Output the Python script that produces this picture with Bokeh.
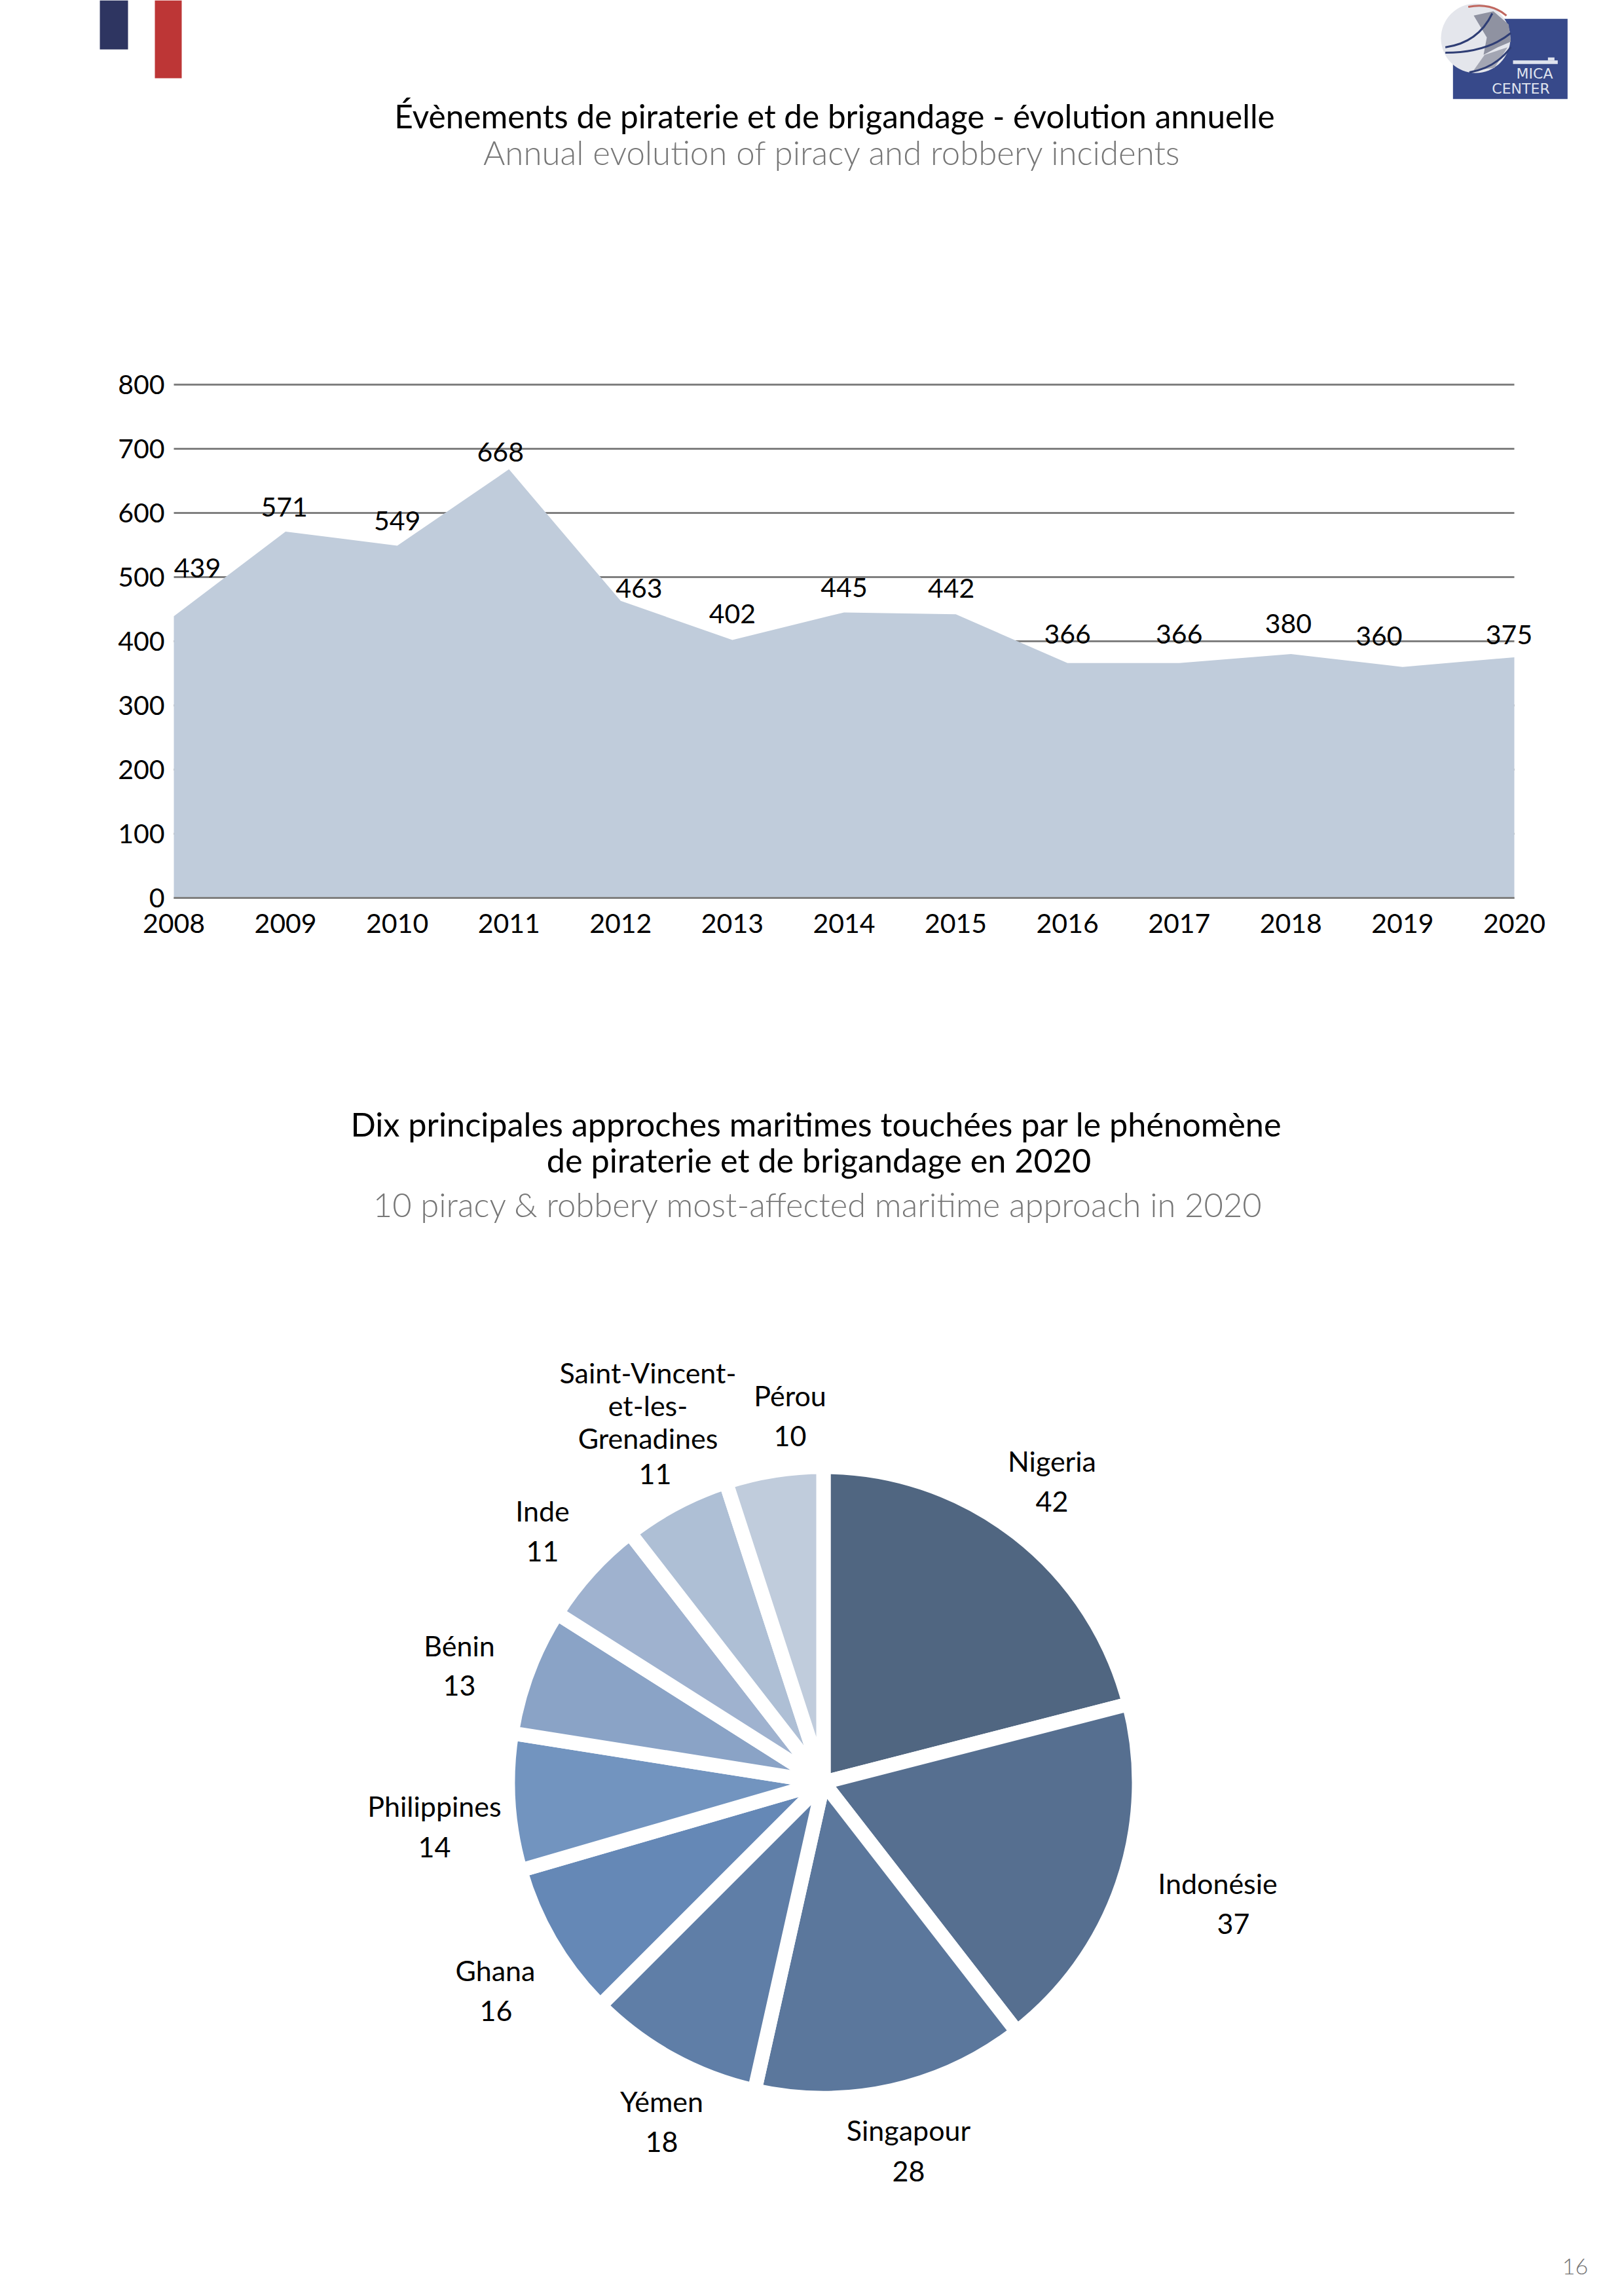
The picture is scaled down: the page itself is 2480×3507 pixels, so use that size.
from math import pi
from bokeh.plotting import figure
from bokeh.models import Range1d, FixedTicker, LabelSet, ColumnDataSource, LinearAxis
from bokeh.core.properties import value
from bokeh.embed import file_html
from bokeh.resources import INLINE

# ---------- data ----------
years = [2008, 2009, 2010, 2011, 2012, 2013, 2014, 2015, 2016, 2017, 2018, 2019, 2020]
incidents = [439, 571, 549, 668, 463, 402, 445, 442, 366, 366, 380, 360, 375]
y_ticks = [0, 100, 200, 300, 400, 500, 600, 700, 800]

countries = ["Nigeria", "Indonésie", "Singapour", "Yémen", "Ghana", "Philippines",
             "Bénin", "Inde", "Saint-Vincent-\net-les-\nGrenadines", "Pérou"]
counts = [42, 37, 28, 18, 16, 14, 13, 11, 11, 10]
slice_colors = ["#506681", "#566f90", "#5b779c", "#5f7ea7", "#6588b6",
                "#7294bf", "#8aa3c6", "#9fb2cf", "#aebfd5", "#c0ccdc"]

title_1 = "Évènements de piraterie et de brigandage - évolution annuelle"
subtitle_1 = "Annual evolution of piracy and robbery incidents"
title_2a = "Dix principales approches maritimes touchées par le phénomène"
title_2b = "de piraterie et de brigandage en 2020"
subtitle_2 = "10 piracy & robbery most-affected maritime approach in 2020"
page_number = "16"

# ---------- layout constants (picture pixels) ----------
ORIGIN = 0
PAGE_W, PAGE_H = 2464, 3491
TITLE_FONT = "Lato"
LIGHT_FONT = "Lato Light"
AXIS_FONT = "Lato"
PIE_FONT = "Lato"
CHART_L, CHART_R, CHART_T, CHART_B = 265, 2312, 587, 1371

# offsets of the value labels from their points (px)
val_dx = [36, -2, 0, -13, 28, 0, 0, -7, 0, 0, -4, -36, -8]
val_dy = [-74, -37, -38, -26, -19, -40, -38, -40, -44, -44, -47, -47, -35]

# centres of the pie labels: one (x, y) per text line, the count last
label_pos = [
    [(1606, 2231), (1606, 2293)],
    [(1859, 2876), (1883, 2938)],
    [(1387, 3253), (1387, 3316)],
    [(1010, 3209), (1010, 3271)],
    [(756, 3009), (757, 3071)],
    [(663, 2758), (663, 2821)],
    [(701, 2513), (701, 2574)],
    [(828, 2307), (828, 2369)],
    [(989, 2096), (989, 2146), (989, 2196), (1000, 2251)],
    [(1206, 2131), (1206, 2193)],
]
PIE_X, PIE_Y, PIE_R, PIE_GAP = 1257, 2722, 482, 22

# the page is one figure whose frame fills it: picture pixels on the default ranges (y = -picture y),
# and the chart's own scales as extra ranges placed so the chart lands on its rectangle
page_x0, page_x1 = ORIGIN, ORIGIN + PAGE_W
page_y0, page_y1 = ORIGIN, ORIGIN + PAGE_H
per_year = (CHART_R - CHART_L) / (years[-1] - years[0])
per_unit = (CHART_B - CHART_T) / (y_ticks[-1] - y_ticks[0])

p = figure(width=PAGE_W, height=PAGE_H, output_backend="svg", toolbar_location=None,
           x_range=Range1d(page_x0, page_x1), y_range=Range1d(-page_y1, -page_y0),
           x_axis_location=None, y_axis_location=None, min_border=0,
           outline_line_color=None, background_fill_color="white", border_fill_color="white")
p.grid.visible = False
p.extra_x_ranges["years"] = Range1d(years[0] + (page_x0 - CHART_L) / per_year,
                                    years[0] + (page_x1 - CHART_L) / per_year)
p.extra_y_ranges["count"] = Range1d((CHART_B - page_y1) / per_unit, (CHART_B - page_y0) / per_unit)


def put(x, y, s, size, color="#000000", font=TITLE_FONT, baseline="alphabetic", align="center"):
    p.text(x=[x], y=[-y], text=[s], text_font=value(font), text_font_size=f"{size}px",
           text_color=color, text_align=align, text_baseline=baseline)


# ---------- header ----------
p.quad(left=[152], right=[195], top=[-page_y0], bottom=[-75], fill_color="#2e3561", line_color=None)
p.quad(left=[236], right=[277], top=[-page_y0], bottom=[-119], fill_color="#bd3636", line_color=None)

# logo
def lx(z): return 2170 + z / 3
def ly(z): return -z / 3
p.quad(left=[lx(145)], right=[lx(670)], top=[ly(85)], bottom=[ly(452)], fill_color="#37498a", line_color=None)
p.circle(x=[2253], y=[-58], radius=53, fill_color="#e4e6ec", line_color=None)
p.patch([lx(v) for v in (240, 330, 400, 410, 350, 285, 300)],
        [ly(v) for v in (70, 50, 110, 190, 215, 250, 170)], fill_color="#8f92a1", line_color=None)
p.patch([lx(v) for v in (290, 395, 335, 240)],
        [ly(v) for v in (250, 215, 310, 320)], fill_color="#a3a6b3", line_color=None)
for (a, b, c, colr) in [((110, 215), (260, 195), (325, 60), "#2f3e75"),
                        ((110, 240), (300, 240), (410, 150), "#2f3e75"),
                        ((220, 330), (340, 310), (410, 215), "#2f3e75"),
                        ((215, 30), (320, 10), (390, 70), "#c0675f")]:
    p.quadratic(x0=[lx(a[0])], y0=[ly(a[1])], cx=[lx(b[0])], cy=[ly(b[1])], x1=[lx(c[0])], y1=[ly(c[1])],
                line_color=colr, line_width=3)
p.quad(left=[lx(420)], right=[lx(625)], top=[ly(275)], bottom=[ly(292)], fill_color="#dfe3ee", line_color=None)
p.quad(left=[lx(580)], right=[lx(610)], top=[ly(262)], bottom=[ly(276)], fill_color="#dfe3ee", line_color=None)
put(2343, 112, "MICA", 22, color="#dfe3ee", font="DejaVu Sans", baseline="middle")
put(2322, 135, "CENTER", 22, color="#dfe3ee", font="DejaVu Sans", baseline="middle")

put(1274, 176, title_1, 49.5)
put(1271, 232, subtitle_1, 51, color="#777777", font=LIGHT_FONT)

# ---------- area chart ----------
p.segment(x0=[years[0]] * len(y_ticks), x1=[years[-1]] * len(y_ticks), y0=y_ticks, y1=y_ticks,
          x_range_name="years", y_range_name="count", line_color="#808080", line_width=3)
p.varea(x=years, y1=[0] * len(years), y2=incidents, fill_color="#c0ccdb",
        x_range_name="years", y_range_name="count")

xax = LinearAxis(x_range_name="years", y_range_name="count", fixed_location=y_ticks[0],
                 bounds=(years[0], years[-1]), ticker=FixedTicker(ticks=years))
yax = LinearAxis(x_range_name="years", y_range_name="count", fixed_location=years[0],
                 bounds=(y_ticks[0], y_ticks[-1]), ticker=FixedTicker(ticks=y_ticks))
xax.formatter.use_scientific = False
for ax in (xax, yax):
    ax.major_label_text_font = AXIS_FONT
    ax.major_label_text_font_size = "41px"
    ax.major_label_text_color = "#000000"
    ax.major_tick_line_color = None
    ax.minor_tick_line_color = None
xax.axis_line_color = "#808080"
xax.axis_line_width = 3
yax.axis_line_color = None
xax.major_label_standoff = 18
yax.major_label_standoff = 8
p.add_layout(xax, "below")
p.add_layout(yax, "left")

vals = ColumnDataSource(dict(x=years, y=incidents, t=[str(v) for v in incidents],
                             dx=val_dx, dy=[-d for d in val_dy]))
p.add_layout(LabelSet(x="x", y="y", text="t", x_offset="dx", y_offset="dy", source=vals,
                      x_range_name="years", y_range_name="count",
                      text_font=value(AXIS_FONT), text_font_size="41px", text_color="#000000",
                      text_align="center", text_baseline="middle"))

# ---------- pie ----------
put(1246, 1716, title_2a, 50.4)
put(1250, 1771, title_2b, 50.4)
put(1249, 1839, subtitle_2, 50.7, color="#777777", font=LIGHT_FONT)

total = sum(counts)
cum = [sum(counts[:i]) for i in range(len(counts) + 1)]
starts = [pi / 2 - 2 * pi * c / total for c in cum[:-1]]
ends = [pi / 2 - 2 * pi * c / total for c in cum[1:]]
p.wedge(x=[PIE_X] * len(counts), y=[-PIE_Y] * len(counts), radius=PIE_R,
        start_angle=starts, end_angle=ends, direction="clock",
        fill_color=slice_colors, line_color="white", line_width=PIE_GAP)

for country, n, pos in zip(countries, counts, label_pos):
    for line, (x, y) in zip(country.split("\n") + [str(n)], pos):
        put(x, y, line, 43, font=PIE_FONT, baseline="middle")

put(2405, 3461, page_number, 34, color="#777777", font=LIGHT_FONT)

open("out.html", "w").write(file_html(p, INLINE))
